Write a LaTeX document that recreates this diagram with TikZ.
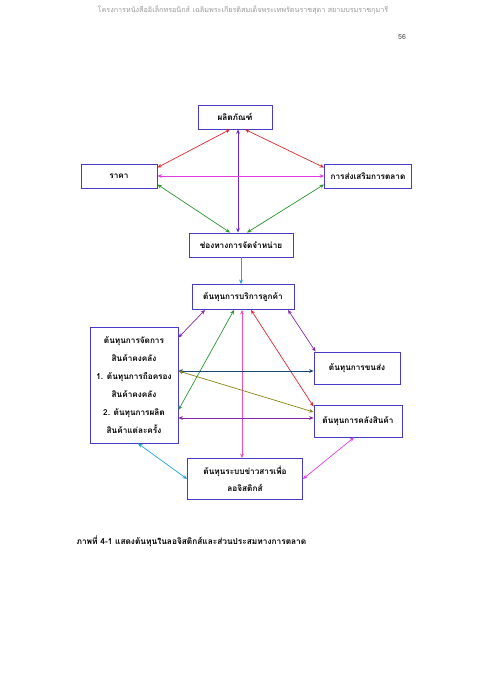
\documentclass[tikz,border=0pt]{standalone}
\usepackage{fontspec}
\newfontfamily\thai[Script=Thai]{Loma}
\usetikzlibrary{arrows.meta}
\definecolor{boxblue}{RGB}{70,60,200}
\definecolor{cred}{RGB}{225,40,45}
\definecolor{cviolet}{RGB}{110,40,220}
\definecolor{cmag}{RGB}{225,60,225}
\definecolor{cgreen}{RGB}{40,150,45}
\definecolor{ccyan}{RGB}{30,165,215}
\definecolor{cpink}{RGB}{240,80,175}
\definecolor{cpurple}{RGB}{135,40,170}
\definecolor{colive}{RGB}{135,130,20}
\definecolor{cnavy}{RGB}{25,70,120}

\begin{document}
\begin{tikzpicture}[x=1pt,y=-1pt,
  box/.style={rectangle,draw=boxblue,line width=0.9pt,inner sep=1pt,
              font=\thai\bfseries\fontsize{8.2}{18}\selectfont,align=center},
  arrow/.style={line width=0.7pt,{Stealth[length=4.5pt,width=3.8pt]}-{Stealth[length=4.5pt,width=3.8pt]}}]
\useasboundingbox (0,0) rectangle (480,679);

%% ---------- page head ----------
\node[font=\thai\fontsize{7.2}{8}\selectfont,text=black!40](head) at (243,10)
  {โครงการหนังสืออิเล็กทรอนิกส์ เฉลิมพระเกียรติสมเด็จพระเทพรัตนราชสุดา สยามบรมราชกุมารี};
\node[font=\thai\fontsize{7}{8}\selectfont,text=black!70](page) at (402,37){56};

%% ---------- marketing mix ----------
\node[box,minimum width=74pt,minimum height=24pt](prod) at (235,117){ผลิตภัณฑ์};
\node[box,minimum width=76pt,minimum height=24pt](price) at (119,176){ราคา};
\node[box,minimum width=87pt,minimum height=24pt](promo) at (368,176){การส่งเสริมการตลาด};
\node[box,minimum width=104pt,minimum height=24pt](place) at (241,245){ช่องทางการจัดจำหน่าย};

%% ---------- logistics costs ----------
\node[box,minimum width=102pt,minimum height=25pt](svc) at (243,297){ต้นทุนการบริการลูกค้า};
\node[box,minimum width=88pt,minimum height=116pt](inv) at (134,385)
  {ต้นทุนการจัดการ\\สินค้าคงคลัง\\1. ต้นทุนการถือครอง\\สินค้าคงคลัง\\2. ต้นทุนการผลิต\\สินค้าแต่ละครั้ง};
\node[box,minimum width=86pt,minimum height=32pt](trans) at (357,368){ต้นทุนการขนส่ง};
\node[box,minimum width=88pt,minimum height=32pt](ware) at (358,421){ต้นทุนการคลังสินค้า};
\node[box,minimum width=115pt,minimum height=41pt,font=\thai\bfseries\fontsize{8.2}{17}\selectfont](info) at (245,479)
  {ต้นทุนระบบข่าวสารเพื่อ\\ลอจิสติกส์};

% Caption
\node[anchor=west,font=\thai\bfseries\fontsize{8.3}{9}\selectfont](cap) at (73,541)
  {ภาพที่ 4-1 แสดงต้นทุนในลอจิสติกส์และส่วนประสมทางการตลาด};

% Mix arrows
\draw[arrow,cred]([xshift=-5pt]prod.south)--([yshift=-4pt]price.north east);
\draw[arrow,cred]([xshift=10pt]prod.south)--([yshift=-4pt]promo.north west);
\draw[arrow,cviolet]([xshift=3pt]prod.south)--([xshift=-3pt]place.north);
\draw[arrow,cmag](price.east)--(promo.west);
\draw[arrow,cgreen]([yshift=4pt]price.south east)--([xshift=-11pt]place.north);
\draw[arrow,cgreen]([yshift=4pt]promo.south west)--([xshift=6pt]place.north);
\draw[ccyan,line width=0.7pt,-{Stealth[length=4.5pt,width=3.8pt]}](place.south)--(place.south |- svc.north);

% Cost arrows
\draw[arrow,cpurple]([xshift=-38pt]svc.south)--([yshift=-11pt]inv.north east);
\draw[arrow,cgreen]([xshift=-9pt]svc.south)--([yshift=-25pt]inv.east);
\draw[arrow,cpink]([xshift=-1pt]svc.south)--([xshift=-1pt]svc.south |- info.north);
\draw[arrow,cred]([xshift=8pt]svc.south)--([yshift=-2pt]ware.north west);
\draw[arrow,cpurple]([xshift=45pt]svc.south)--([xshift=2pt]trans.north west);
\draw[arrow,cnavy]([yshift=14pt]inv.east)--([yshift=14pt]inv.east -| trans.west);
\draw[arrow,colive]([yshift=14pt]inv.east)--([yshift=9pt]ware.west);
\draw[arrow,cpurple]([yshift=-33pt]inv.east)--([yshift=-33pt]inv.east -| ware.west);
\draw[arrow,ccyan]([xshift=4pt]inv.south)--(info.west);
\draw[arrow,cmag](info.east)--([xshift=-4pt]ware.south);

\end{tikzpicture}
\end{document}
